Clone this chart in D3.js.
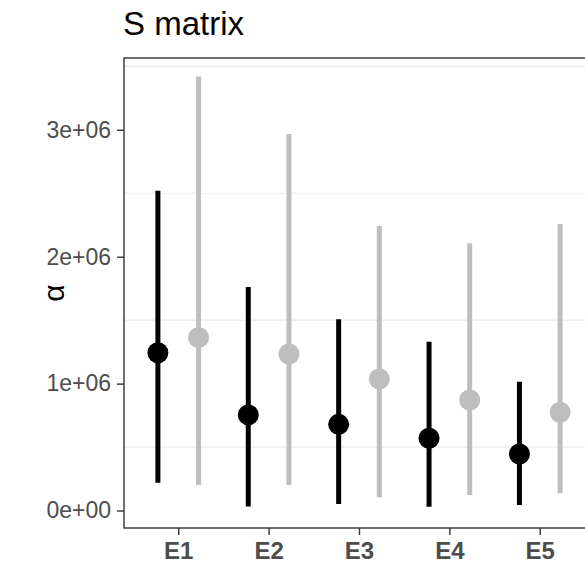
<!DOCTYPE html>
<html>
<head>
<meta charset="utf-8">
<script src="https://cdn.jsdelivr.net/npm/d3@7"></script>
<style>
  html, body { margin: 0; padding: 0; background: #fff; overflow: hidden; }
  svg { display: block; font-family: "Liberation Sans", Arial, sans-serif; }
</style>
</head>
<body>
<svg id="chart" width="585" height="564"></svg>
<script>
// ---- data ----
const categories = ["E1", "E2", "E3", "E4", "E5"];
const groups = ["black", "grey"];
// series 1 (black)
const blackMid = [1.243e6, 0.753e6, 0.679e6, 0.569e6, 0.445e6];
const blackLow = [0.219e6, 0.032e6, 0.051e6, 0.030e6, 0.043e6];
const blackHigh = [2.52e6, 1.762e6, 1.507e6, 1.33e6, 1.015e6];
// series 2 (grey)
const greyMid = [1.362e6, 1.233e6, 1.036e6, 0.871e6, 0.774e6];
const greyLow = [0.20e6, 0.20e6, 0.104e6, 0.122e6, 0.136e6];
const greyHigh = [3.42e6, 2.967e6, 2.242e6, 2.106e6, 2.258e6];
const yTickValues = [0, 1e6, 2e6, 3e6];
const yTickLabels = ["0e+00", "1e+06", "2e+06", "3e+06"];
const yMinorGrid = [0.5e6, 1.5e6, 2.5e6, 3.5e6];
const titleText = "S matrix";
const yTitle = "α";

// ---- layout ----
const svg = d3.select("#chart");
const panel = { left: 124, right: 594, top: 58, bottom: 528 };
const colors = { black: "#000000", grey: "#bebebe" };

const x = d3.scalePoint().domain(categories).range([panel.left, panel.right]).padding(0.6);
const y = d3.scaleLinear().domain([0, 3e6]).range([510.5, 129.8]);
const dodge = 0.225 * x.step();

const series = [
  { key: "black", mid: blackMid, low: blackLow, high: blackHigh, off: -dodge },
  { key: "grey", mid: greyMid, low: greyLow, high: greyHigh, off: dodge }
];

// panel background
svg.append("rect")
  .attr("x", panel.left).attr("y", panel.top)
  .attr("width", panel.right - panel.left).attr("height", panel.bottom - panel.top)
  .attr("fill", "#fff");

// minor gridlines
svg.append("g").selectAll("line").data(yMinorGrid).join("line")
  .attr("x1", panel.left).attr("x2", panel.right)
  .attr("y1", d => y(d)).attr("y2", d => y(d))
  .attr("stroke", "#ebebeb").attr("stroke-width", 1.2);

// pointranges
series.forEach(s => {
  const g = svg.append("g");
  g.selectAll("line").data(categories).join("line")
    .attr("x1", (c) => x(c) + s.off).attr("x2", (c) => x(c) + s.off)
    .attr("y1", (c, i) => y(s.low[i])).attr("y2", (c, i) => y(s.high[i]))
    .attr("stroke", colors[s.key]).attr("stroke-width", 5);
  g.selectAll("circle").data(categories).join("circle")
    .attr("cx", (c) => x(c) + s.off)
    .attr("cy", (c, i) => y(s.mid[i]))
    .attr("r", 10.5)
    .attr("fill", colors[s.key]);
});

// panel border
svg.append("rect")
  .attr("x", panel.left).attr("y", panel.top)
  .attr("width", panel.right - panel.left).attr("height", panel.bottom - panel.top)
  .attr("fill", "none").attr("stroke", "#333333").attr("stroke-width", 1.4);

// y axis
const yAxis = d3.axisLeft(y).tickValues(yTickValues)
  .tickFormat((d, i) => yTickLabels[i]).tickSize(7).tickPadding(6);
const yg = svg.append("g").attr("transform", `translate(${panel.left},0)`).call(yAxis);
yg.select(".domain").remove();
yg.selectAll(".tick line").attr("stroke", "#333333").attr("stroke-width", 1.4);
yg.selectAll(".tick text").attr("fill", "#4d4d4d").attr("font-size", 23)
  .attr("font-family", "Liberation Sans, Arial, sans-serif");

// x axis
const xAxis = d3.axisBottom(x).tickSize(7).tickPadding(7);
const xg = svg.append("g").attr("transform", `translate(0,${panel.bottom})`).call(xAxis);
xg.select(".domain").remove();
xg.selectAll(".tick line").attr("stroke", "#333333").attr("stroke-width", 1.4);
xg.selectAll(".tick text").attr("fill", "#4d4d4d").attr("font-size", 24)
  .attr("font-weight", "bold")
  .attr("font-family", "Liberation Sans, Arial, sans-serif");

// title
svg.append("text").attr("x", panel.left - 1).attr("y", 35)
  .attr("font-size", 33).attr("fill", "#000").text(titleText);

// y title
svg.append("text")
  .attr("transform", `translate(64,${(panel.top + panel.bottom) / 2}) rotate(-90)`)
  .attr("text-anchor", "middle").attr("font-size", 30).attr("fill", "#000")
  .text(yTitle);
</script>
</body>
</html>
